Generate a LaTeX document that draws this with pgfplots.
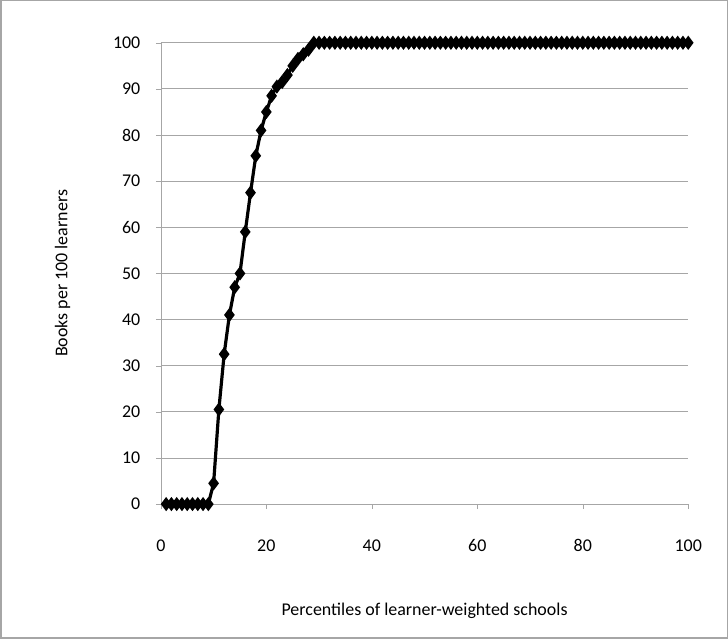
\documentclass[border=0pt]{standalone}
\usepackage{pgfplots}
\pgfplotsset{compat=1.18}
\usepackage{fontspec}
\setmainfont{Carlito}
\begin{document}
\begin{tikzpicture}[x=1bp,y=1bp]
\draw[gray!70,line width=1.5bp] (1,1) rectangle (727,638);
\begin{axis}[at={(161bp,135bp)},anchor=south west,scale only axis,
width=527bp,height=461bp,
xmin=0,xmax=100,ymin=0,ymax=100,
xtick={0,20,...,100},ytick={0,10,...,100},
ymajorgrids,major grid style={gray!70,line width=0.8pt},
axis x line*=bottom,axis y line*=left,
x axis line style={gray!70,-},y axis line style={gray!70,-},
tick style={gray!70},major tick length=5bp,
xtick align=outside,ytick align=outside,
clip=false,
tick label style={font=\fontsize{18}{21}\selectfont},
xticklabel style={yshift=-27bp},
yticklabel style={xshift=-12bp},
/pgf/number format/assume math mode=true,
xlabel={Percentiles of learner-weighted schools},
ylabel={Books per 100 learners},
label style={font=\fontsize{18}{21}\selectfont},
xlabel style={yshift=-44bp},ylabel style={yshift=36bp},
]
\addplot[black,line width=3.2pt,mark=diamond*,mark size=4.5pt] coordinates {
(1,0)(2,0)(3,0)(4,0)(5,0)(6,0)(7,0)(8,0)(9,0)(10,4.5)(11,20.5)(12,32.5)(13,41)(14,47)(15,50)
(16,59)(17,67.5)(18,75.5)(19,81)(20,85)(21,88.5)(22,90.5)(23,91.5)(24,93)(25,95)(26,96.5)(27,97.5)(28,98.5)
(29,100)(30,100)(31,100)(32,100)(33,100)(34,100)(35,100)(36,100)(37,100)(38,100)(39,100)(40,100)
(41,100)(42,100)(43,100)(44,100)(45,100)(46,100)(47,100)(48,100)(49,100)(50,100)
(51,100)(52,100)(53,100)(54,100)(55,100)(56,100)(57,100)(58,100)(59,100)(60,100)
(61,100)(62,100)(63,100)(64,100)(65,100)(66,100)(67,100)(68,100)(69,100)(70,100)
(71,100)(72,100)(73,100)(74,100)(75,100)(76,100)(77,100)(78,100)(79,100)(80,100)
(81,100)(82,100)(83,100)(84,100)(85,100)(86,100)(87,100)(88,100)(89,100)(90,100)
(91,100)(92,100)(93,100)(94,100)(95,100)(96,100)(97,100)(98,100)(99,100)(100,100)};
\end{axis}
\end{tikzpicture}
\end{document}
